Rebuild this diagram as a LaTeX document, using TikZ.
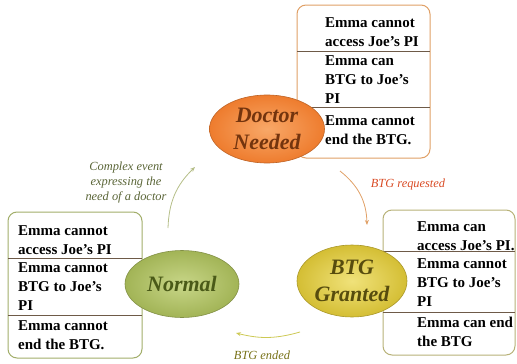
\documentclass[tikz,border=0pt]{standalone}
\usepackage{fontspec}
\setmainfont{Liberation Serif}
\usetikzlibrary{arrows.meta,shapes.geometric}
\definecolor{docfill}{HTML}{EE7C2E}
\definecolor{docin}{HTML}{F8A868}
\definecolor{doctext}{HTML}{73340E}
\definecolor{normfill}{HTML}{A2B456}
\definecolor{normin}{HTML}{C8D688}
\definecolor{normtext}{HTML}{4A5A18}
\definecolor{grantfill}{HTML}{D4BE34}
\definecolor{grantin}{HTML}{F0E27A}
\definecolor{granttext}{HTML}{574C0E}
\definecolor{docline}{HTML}{E0A066}
\definecolor{normline}{HTML}{A2AE6A}
\definecolor{grantline}{HTML}{B8B278}
\definecolor{rowline}{HTML}{6E5A48}
\begin{document}
\begin{tikzpicture}[
    x=1pt, y=-1pt,
    statebox/.style={rounded corners=9pt, line width=1pt, fill=white},
    rowtext/.style={anchor=west, align=left, inner sep=0pt,
      font=\fontsize{15}{19}\selectfont\bfseries},
    state/.style={ellipse, inner sep=0pt, line width=0.6pt,
      font=\fontsize{22}{27}\selectfont\bfseries\itshape, align=center},
    event/.style={font=\fontsize{12.4}{15}\selectfont\itshape, align=center},
    trans/.style={line width=0.8pt, -{Stealth[length=5pt,width=4pt]}}
]
\useasboundingbox (0,0) rectangle (517,364);

% Doctor Needed box
\draw[statebox, draw=docline] (297,5) rectangle (430,158);
\draw[rowline] (297,51) -- (430,51);
\draw[rowline] (297,107) -- (430,107);
\node[rowtext] (d1) at (325,32) {Emma cannot\\access Joe's PI};
\node[rowtext] (d2) at (325,80) {Emma can\\BTG to Joe's\\PI};
\node[rowtext] (d3) at (325,130) {Emma cannot\\end the BTG.};

% Normal box
\draw[statebox, draw=normline] (8,212) rectangle (142,358);
\draw[rowline] (8,258) -- (142,258);
\draw[rowline] (8,315) -- (142,315);
\node[rowtext] (n1) at (18,240) {Emma cannot\\access Joe's PI};
\node[rowtext] (n2) at (18,287) {Emma cannot\\BTG to Joe's\\PI};
\node[rowtext] (n3) at (18,335) {Emma cannot\\end the BTG.};

% BTG Granted box
\draw[statebox, draw=grantline] (383,210) rectangle (515,355);
\draw[rowline] (383,251) -- (515,251);
\draw[rowline] (383,312) -- (515,312);
\node[rowtext] (g1) at (417,236) {Emma can\\access Joe's PI.};
\node[rowtext] (g2) at (417,283) {Emma cannot\\BTG to Joe's\\PI};
\node[rowtext] (g3) at (417,332) {Emma can end\\the BTG};

% states
\node[state, minimum width=115pt, minimum height=68pt, draw=docfill!80!black,
  inner color=docin, outer color=docfill, text=doctext]
  (doctor) at (267,129) {Doctor\\Needed};
\node[state, minimum width=114pt, minimum height=67pt, draw=normfill!80!black,
  inner color=normin, outer color=normfill, text=normtext]
  (normal) at (182,284) {Normal};
\node[state, minimum width=110pt, minimum height=72pt, draw=grantfill!80!black,
  inner color=grantin, outer color=grantfill, text=granttext]
  (granted) at (352,281) {BTG\\Granted};

% transitions
\coordinate (req-a) at (340,171);
\coordinate (req-b) at (367,225);
\coordinate (end-a) at (300,332);
\coordinate (end-b) at (236,333);
\coordinate (cpx-a) at (168,228);
\coordinate (cpx-b) at (195,167);
\draw[trans, draw=docline] (req-a) to[bend left=25] (req-b);
\draw[trans, draw=grantline!70!yellow] (end-a) to[bend left=15] (end-b);
\draw[trans, draw=normline!80!white] (cpx-a) to[bend left=22] (cpx-b);

% event labels
\node[event, text=red!40!brown] (req) at (408,185) {BTG requested};
\node[event, text=olive!80!black] (ended) at (262,355) {BTG ended};
\node[event, text=normtext!70!gray] (cpx) at (126,183)
  {Complex event\\expressing the\\need of a doctor};
\end{tikzpicture}
\end{document}
